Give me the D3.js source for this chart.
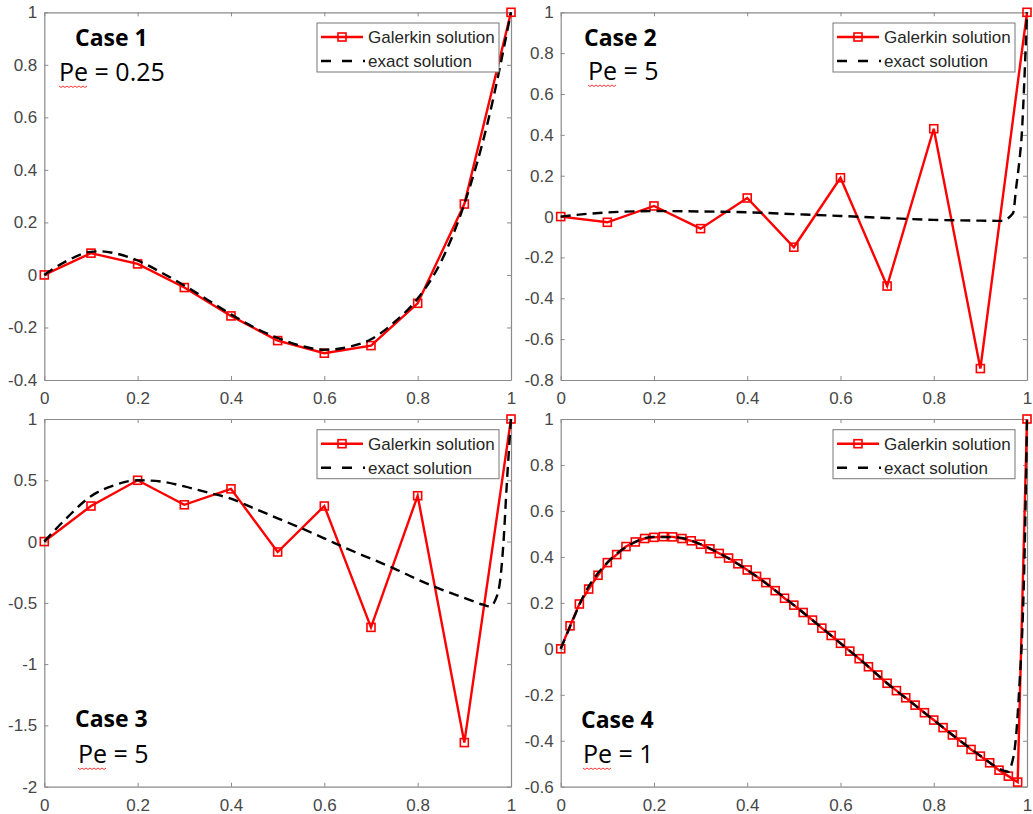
<!DOCTYPE html>
<html>
<head>
<meta charset="utf-8">
<script src="https://cdn.jsdelivr.net/npm/d3@7"></script>
<style>
  body { margin: 0; background: #fff; }
  svg { display: block; }
  .tick text { font-family: "Liberation Sans", Arial, sans-serif; font-size: 17px; fill: #474747; }
  .tick line { stroke: #8a8a8a; }
  .domain { stroke: #8a8a8a; }
</style>
</head>
<body>
<div id="chart"></div>
<script>
// x positions of the coarse Galerkin mesh (cases 1-3)
const xCoarse = [0, 0.1, 0.2, 0.3, 0.4, 0.5, 0.6, 0.7, 0.8, 0.9, 1];
// fine mesh for case 4
const xFine = [0, 0.02, 0.04, 0.06, 0.08, 0.1, 0.12, 0.14, 0.16, 0.18, 0.2, 0.22, 0.24, 0.26, 0.28,
  0.3, 0.32, 0.34, 0.36, 0.38, 0.4, 0.42, 0.44, 0.46, 0.48, 0.5, 0.52, 0.54, 0.56, 0.58, 0.6,
  0.62, 0.64, 0.66, 0.68, 0.7, 0.72, 0.74, 0.76, 0.78, 0.8, 0.82, 0.84, 0.86, 0.88, 0.9, 0.92,
  0.94, 0.96, 0.98, 1];

const galerkin1 = [0, 0.083, 0.042, -0.048, -0.156, -0.25, -0.298, -0.269, -0.108, 0.27, 1];
const galerkin2 = [0, -0.028, 0.052, -0.059, 0.091, -0.15, 0.19, -0.34, 0.43, -0.744, 1];
const galerkin3 = [0, 0.29, 0.5, 0.3, 0.43, -0.085, 0.29, -0.7, 0.374, -1.64, 1];
const galerkin4 = [0, 0.1, 0.195, 0.26, 0.32, 0.375, 0.41, 0.445, 0.465, 0.48, 0.485, 0.488,
  0.487, 0.48, 0.47, 0.455, 0.435, 0.415, 0.395, 0.37, 0.343, 0.315, 0.288, 0.253, 0.22, 0.19,
  0.158, 0.125, 0.09, 0.058, 0.024, -0.01, -0.043, -0.078, -0.114, -0.15, -0.182, -0.213,
  -0.245, -0.278, -0.31, -0.343, -0.375, -0.406, -0.438, -0.467, -0.496, -0.528, -0.554, -0.58, 1];

const exact1X = [0, 0.05, 0.1, 0.12, 0.15, 0.2, 0.25, 0.3, 0.35, 0.4, 0.45, 0.5, 0.55, 0.6, 0.65, 0.7, 0.75, 0.8, 0.85, 0.9, 0.95, 1];
const exact1Y = [0, 0.055, 0.088, 0.09, 0.083, 0.055, 0.01, -0.04, -0.095, -0.15, -0.2, -0.24, -0.27, -0.285, -0.275, -0.245, -0.18, -0.09, 0.05, 0.27, 0.58, 1];

const exact2X = [0, 0.05, 0.1, 0.2, 0.3, 0.4, 0.5, 0.6, 0.7, 0.8, 0.9, 0.945, 0.97, 0.977, 0.984, 0.989, 0.994, 1];
const exact2Y = [0, 0.012, 0.02, 0.027, 0.025, 0.021, 0.012, 0.003, -0.007, -0.016, -0.02, -0.021, 0.016, 0.147, 0.28, 0.41, 0.65, 1];

const exact3X = [0, 0.05, 0.1, 0.15, 0.2, 0.25, 0.3, 0.35, 0.4, 0.45, 0.5, 0.55, 0.6, 0.65, 0.7, 0.75, 0.8, 0.85, 0.9, 0.94, 0.955, 0.966, 0.977, 0.984, 0.991, 1];
const exact3Y = [0, 0.2, 0.37, 0.46, 0.5, 0.49, 0.45, 0.4, 0.35, 0.27, 0.19, 0.11, 0.026, -0.06, -0.14, -0.22, -0.31, -0.39, -0.46, -0.515, -0.53, -0.48, -0.31, 0, 0.47, 1];

const exact4X = [0, 0.025, 0.05, 0.1, 0.15, 0.2, 0.25, 0.3, 0.35, 0.4, 0.45, 0.5, 0.55, 0.6, 0.65, 0.7, 0.75, 0.8, 0.85, 0.9, 0.95, 0.96, 0.966, 0.977, 0.984, 0.991, 0.995, 1];
const exact4Y = [0, 0.12, 0.235, 0.375, 0.455, 0.487, 0.485, 0.455, 0.405, 0.343, 0.27, 0.19, 0.108, 0.024, -0.06, -0.15, -0.23, -0.31, -0.39, -0.465, -0.53, -0.535, -0.51, -0.37, -0.15, 0.14, 0.43, 1];

const xTicks = [0, 0.2, 0.4, 0.6, 0.8, 1];
const caseLabels = ["Case 1", "Case 2", "Case 3", "Case 4"];
const peLabels = ["Pe = 0.25", "Pe = 5", "Pe = 5", "Pe = 1"];
const legendLabels = ["Galerkin solution", "exact solution"];

const panels = [
  { left: 44.3, right: 511, top: 12.3, bottom: 380, yDomain: [-0.4, 1], yTicks: [-0.4, -0.2, 0, 0.2, 0.4, 0.6, 0.8, 1],
    gx: xCoarse, gy: galerkin1, ex: exact1X, ey: exact1Y, labelPos: [75, 46, 59, 81] },
  { left: 560.7, right: 1027, top: 12.3, bottom: 380, yDomain: [-0.8, 1], yTicks: [-0.8, -0.6, -0.4, -0.2, 0, 0.2, 0.4, 0.6, 0.8, 1],
    gx: xCoarse, gy: galerkin2, ex: exact2X, ey: exact2Y, labelPos: [584, 46, 588, 80] },
  { left: 44.3, right: 511, top: 419, bottom: 786.7, yDomain: [-2, 1], yTicks: [-2, -1.5, -1, -0.5, 0, 0.5, 1],
    gx: xCoarse, gy: galerkin3, ex: exact3X, ey: exact3Y, labelPos: [75, 727, 78, 763] },
  { left: 560.7, right: 1027, top: 419, bottom: 786.7, yDomain: [-0.6, 1], yTicks: [-0.6, -0.4, -0.2, 0, 0.2, 0.4, 0.6, 0.8, 1],
    gx: xFine, gy: galerkin4, ex: exact4X, ey: exact4Y, labelPos: [581, 728, 583, 763] }
];

const W = 1033, H = 814;
const red = "#ff0000";
const fmt = d => String(+d.toFixed(2));

const svg = d3.select("#chart").append("svg")
  .attr("width", W).attr("height", H);

svg.append("rect").attr("width", W).attr("height", H).attr("fill", "#fff");

function drawMarkers(g, pts, x, y) {
  g.selectAll("rect.mk")
    .data(pts)
    .join("rect")
    .attr("class", "mk")
    .attr("x", d => x(d[0]) - 4)
    .attr("y", d => y(d[1]) - 4)
    .attr("width", 8)
    .attr("height", 8)
    .attr("fill", "none")
    .attr("stroke", red)
    .attr("stroke-width", 1.6);
}

panels.forEach((p, i) => {
  const x = d3.scaleLinear().domain([0, 1]).range([p.left, p.right]);
  const y = d3.scaleLinear().domain(p.yDomain).range([p.bottom, p.top]);
  const g = svg.append("g");

  // box with inward ticks on all four sides
  g.append("g")
    .attr("transform", `translate(0,${p.bottom})`)
    .call(d3.axisBottom(x).tickValues(xTicks).tickFormat(fmt).tickSize(-4).tickSizeOuter(0).tickPadding(12));
  g.append("g")
    .attr("transform", `translate(0,${p.top})`)
    .call(d3.axisTop(x).tickValues(xTicks).tickFormat("").tickSize(-4).tickSizeOuter(0));
  g.append("g")
    .attr("transform", `translate(${p.left},0)`)
    .call(d3.axisLeft(y).tickValues(p.yTicks).tickFormat(fmt).tickSize(-4).tickSizeOuter(0).tickPadding(7));
  g.append("g")
    .attr("transform", `translate(${p.right},0)`)
    .call(d3.axisRight(y).tickValues(p.yTicks).tickFormat("").tickSize(-4).tickSizeOuter(0));
  g.selectAll(".domain").attr("stroke-width", 1.2);

  // Galerkin solution
  const gPts = p.gx.map((v, k) => [v, p.gy[k]]);
  g.append("path")
    .datum(gPts)
    .attr("fill", "none")
    .attr("stroke", red)
    .attr("stroke-width", 2.4)
    .attr("d", d3.line().x(d => x(d[0])).y(d => y(d[1])));
  drawMarkers(g.append("g"), gPts, x, y);

  // exact solution
  const ePts = p.ex.map((v, k) => [v, p.ey[k]]);
  g.append("path")
    .datum(ePts)
    .attr("fill", "none")
    .attr("stroke", "#000")
    .attr("stroke-width", 2.4)
    .attr("stroke-dasharray", "10,6")
    .attr("d", d3.line().curve(d3.curveMonotoneX).x(d => x(d[0])).y(d => y(d[1])));

  // legend
  const lx = p.right - 194, ly = p.top + 10.7;
  const lg = g.append("g").attr("transform", `translate(${lx},${ly})`);
  lg.append("rect")
    .attr("width", 182).attr("height", 49)
    .attr("fill", "#fff").attr("stroke", "#777").attr("stroke-width", 1);
  lg.append("line")
    .attr("x1", 4).attr("x2", 46).attr("y1", 14).attr("y2", 14)
    .attr("stroke", red).attr("stroke-width", 2.4);
  lg.append("rect")
    .attr("x", 21).attr("y", 10).attr("width", 8).attr("height", 8)
    .attr("fill", "none").attr("stroke", red).attr("stroke-width", 1.6);
  lg.append("line")
    .attr("x1", 4).attr("x2", 48).attr("y1", 38).attr("y2", 38)
    .attr("stroke", "#000").attr("stroke-width", 2.4).attr("stroke-dasharray", "10,11");
  lg.selectAll("text.lt")
    .data(legendLabels)
    .join("text")
    .attr("class", "lt")
    .attr("x", 51)
    .attr("y", (d, k) => 14 + k * 24)
    .attr("dy", "0.35em")
    .style("font-family", "'Liberation Sans', Arial, sans-serif")
    .style("font-size", "17px")
    .style("fill", "#262626")
    .text(d => d);

  // case annotation
  const [cx, cy, px, py] = p.labelPos;
  g.append("text")
    .attr("x", cx).attr("y", cy)
    .style("font-family", "'Open Sans', sans-serif")
    .style("font-weight", "bold")
    .style("font-size", "23px")
    .style("fill", "#000")
    .text(caseLabels[i]);
  g.append("text")
    .attr("x", px).attr("y", py)
    .style("font-family", "'Open Sans', sans-serif")
    .style("font-size", "25px")
    .style("fill", "#000")
    .text(peLabels[i]);

  // spell-check squiggle under "Pe"
  let sq = `M${px},${py + 5}`;
  for (let k = 1; k <= 14; k++) sq += ` L${px + k * 2},${py + 5 + (k % 2 ? 1.5 : 0)}`;
  g.append("path").attr("d", sq).attr("fill", "none").attr("stroke", red).attr("stroke-width", 0.8);
});
</script>
</body>
</html>
